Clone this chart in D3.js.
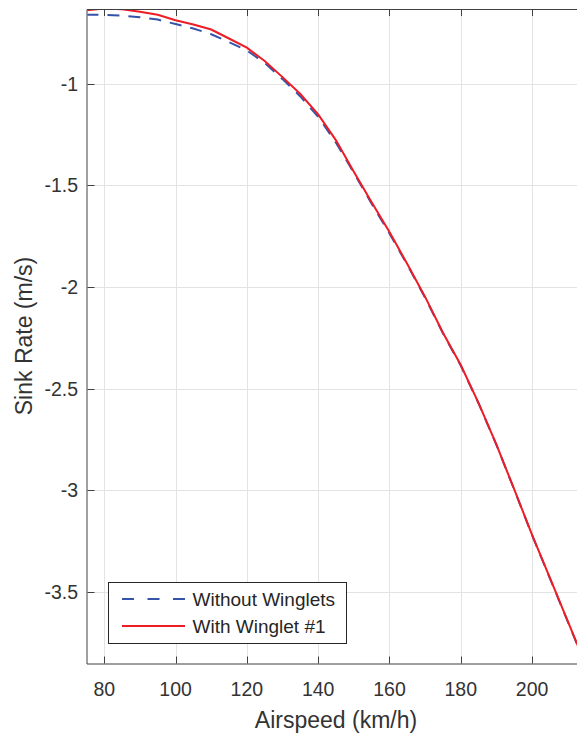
<!DOCTYPE html>
<html>
<head>
<meta charset="utf-8">
<script src="https://cdn.jsdelivr.net/npm/d3@7"></script>
<style>
  body { margin: 0; background: #fff; }
  svg { display: block; font-family: 'Liberation Sans', Helvetica, Arial, sans-serif; }
  .tick-label { font-size: 19.5px; fill: #333; }
  .axis-title { font-size: 23px; fill: #333; }
  .legend-text { font-size: 19px; fill: #262626; }
</style>
</head>
<body>
<svg id="chart" width="577" height="734"></svg>
<script>
// airspeed in km/h
const speeds = [75, 80, 85, 90, 95, 100, 105, 110, 115, 120, 125, 130, 135, 140, 145, 150, 155, 160, 165, 170, 175, 180, 185, 190, 195, 200, 205, 210, 215]
// sink rate in m/s
const sinkNoWinglets = [-0.660, -0.661, -0.665, -0.672, -0.684, -0.706, -0.728, -0.756, -0.795, -0.836, -0.897, -0.977, -1.062, -1.162, -1.290, -1.437, -1.590, -1.736, -1.890, -2.052, -2.227, -2.386, -2.572, -2.776, -2.996, -3.220, -3.432, -3.644, -3.858]
const sinkWinglet1 = [-0.638, -0.630, -0.633, -0.645, -0.660, -0.687, -0.708, -0.733, -0.777, -0.822, -0.888, -0.967, -1.050, -1.150, -1.278, -1.432, -1.583, -1.729, -1.886, -2.048, -2.224, -2.383, -2.570, -2.774, -2.995, -3.218, -3.430, -3.643, -3.856]

const xTicks = [80, 100, 120, 140, 160, 180, 200]
const yTicks = [-1, -1.5, -2, -2.5, -3, -3.5]
const seriesNames = ['Without Winglets', 'With Winglet #1']

let plotLeft = 87.5
let plotRight = 577
let plotTop = 9
let plotBottom = 663.5
let tickLen = 7
let axisColor = '#404040'

let x = d3.scaleLinear().domain([75.3, 212.6]).range([plotLeft, plotRight])
let y = d3.scaleLinear().domain([-0.632, -3.851]).range([plotTop, plotBottom])

let svg = d3.select('#chart')

svg.append('defs')
  .append('clipPath')
  .attr('id', 'plot-clip')
  .append('rect')
  .attr('x', plotLeft)
  .attr('y', plotTop)
  .attr('width', plotRight - plotLeft)
  .attr('height', plotBottom - plotTop)

// grid
let grid = svg.append('g').attr('stroke', '#e3e3e3').attr('stroke-width', 1)
grid.selectAll('line.gx')
  .data(xTicks)
  .enter()
  .append('line')
  .attr('x1', d => Math.round(x(d)) + 0.5)
  .attr('x2', d => Math.round(x(d)) + 0.5)
  .attr('y1', plotTop)
  .attr('y2', plotBottom)
grid.selectAll('line.gy')
  .data(yTicks)
  .enter()
  .append('line')
  .attr('y1', d => Math.round(y(d)) + 0.5)
  .attr('y2', d => Math.round(y(d)) + 0.5)
  .attr('x1', plotLeft)
  .attr('x2', plotRight)

// series
let series = [
  { name: seriesNames[0], values: sinkNoWinglets, color: '#3553a8', dash: '12,9' },
  { name: seriesNames[1], values: sinkWinglet1, color: '#ee1c25', dash: null }
]

let line = d3.line()
  .x((d, i) => x(speeds[i]))
  .y(d => y(d))

svg.append('g')
  .attr('clip-path', 'url(#plot-clip)')
  .selectAll('path')
  .data(series)
  .enter()
  .append('path')
  .attr('d', d => line(d.values))
  .attr('fill', 'none')
  .attr('stroke', d => d.color)
  .attr('stroke-width', 2)
  .attr('stroke-dasharray', d => d.dash)

// axes (box with inward ticks)
let axes = svg.append('g').attr('stroke', axisColor).attr('stroke-width', 1).attr('fill', 'none')
axes.append('path')
  .attr('d', `M${plotRight},${plotTop + 0.5}H${plotLeft - 0.5}V${plotBottom + 0.5}H${plotRight}`)

axes.selectAll('line.bt')
  .data(xTicks)
  .enter()
  .append('line')
  .attr('x1', d => Math.round(x(d)) + 0.5)
  .attr('x2', d => Math.round(x(d)) + 0.5)
  .attr('y1', plotBottom)
  .attr('y2', plotBottom - tickLen)
axes.selectAll('line.tt')
  .data(xTicks)
  .enter()
  .append('line')
  .attr('x1', d => Math.round(x(d)) + 0.5)
  .attr('x2', d => Math.round(x(d)) + 0.5)
  .attr('y1', plotTop)
  .attr('y2', plotTop + tickLen)
axes.selectAll('line.lt')
  .data(yTicks)
  .enter()
  .append('line')
  .attr('y1', d => Math.round(y(d)) + 0.5)
  .attr('y2', d => Math.round(y(d)) + 0.5)
  .attr('x1', plotLeft)
  .attr('x2', plotLeft + tickLen)

// tick labels
svg.append('g')
  .selectAll('text')
  .data(xTicks)
  .enter()
  .append('text')
  .attr('class', 'tick-label')
  .attr('x', d => x(d))
  .attr('y', 696)
  .attr('text-anchor', 'middle')
  .text(d => d)

svg.append('g')
  .selectAll('text')
  .data(yTicks)
  .enter()
  .append('text')
  .attr('class', 'tick-label')
  .attr('x', 78)
  .attr('y', d => y(d) + 7)
  .attr('text-anchor', 'end')
  .text(d => d)

// axis titles
svg.append('text')
  .attr('class', 'axis-title')
  .attr('x', 336)
  .attr('y', 727.5)
  .attr('text-anchor', 'middle')
  .text('Airspeed (km/h)')

svg.append('text')
  .attr('class', 'axis-title')
  .attr('transform', 'translate(31.5,336) rotate(-90)')
  .attr('text-anchor', 'middle')
  .text('Sink Rate (m/s)')

// legend
let legend = svg.append('g')
legend.append('rect')
  .attr('x', 108.5)
  .attr('y', 582.5)
  .attr('width', 238)
  .attr('height', 61)
  .attr('fill', '#fff')
  .attr('stroke', '#262626')
  .attr('stroke-width', 1)

let entries = legend.selectAll('g.entry')
  .data(series)
  .enter()
  .append('g')
  .attr('transform', (d, i) => `translate(0,${599 + i * 27})`)

entries.append('line')
  .attr('x1', 122)
  .attr('x2', 185)
  .attr('stroke', d => d.color)
  .attr('stroke-width', 2)
  .attr('stroke-dasharray', d => d.dash ? '12,13.5' : null)

entries.append('text')
  .attr('class', 'legend-text')
  .attr('x', 192.5)
  .attr('y', 6.5)
  .text(d => d.name)
</script>
</body>
</html>
